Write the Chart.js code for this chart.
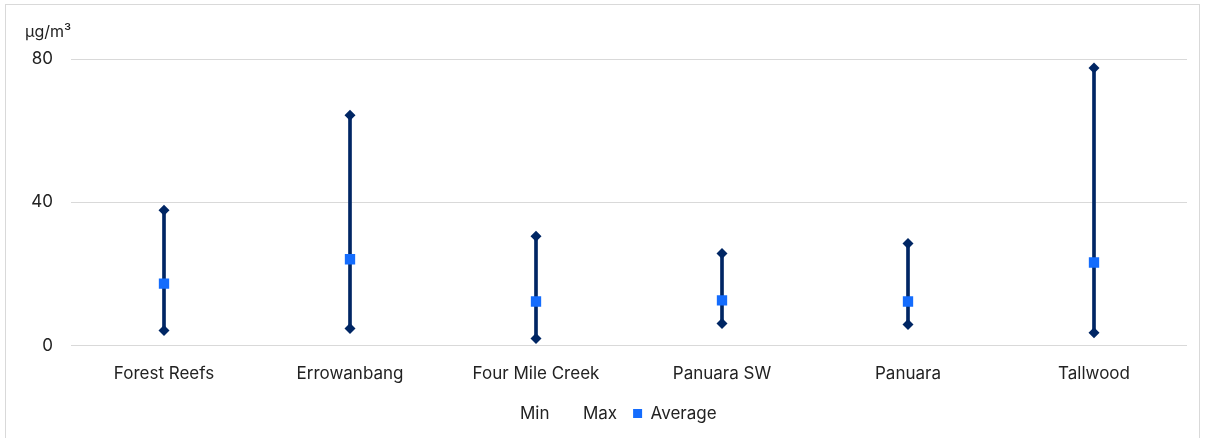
<!DOCTYPE html>
<html>
<head>
<meta charset="utf-8">
<script src="https://cdn.jsdelivr.net/npm/chart.js@4/dist/chart.umd.min.js"></script>
<style>
  html, body { margin: 0; padding: 0; background: #fff; }
  #frame { position: absolute; left: 5px; top: 4px; width: 1195px; height: 440px; border: 1px solid #d9d9d9; box-sizing: border-box; }
  #frame canvas { display: block; }
</style>
</head>
<body>
<div id="frame"><canvas id="c"></canvas></div>
<script>
// PM10 concentrations by monitoring site (µg/m³)
const sites = ['Forest Reefs', 'Errowanbang', 'Four Mile Creek', 'Panuara SW', 'Panuara', 'Tallwood'];
const minValues = [4.2, 4.8, 2.0, 6.2, 5.9, 3.6];
const maxValues = [37.8, 64.3, 30.5, 25.7, 28.5, 77.5];
const avgValues = [17.3, 24.1, 12.3, 12.6, 12.3, 23.2];
const yTicks = [0, 40, 80];
const unitLabel = 'µg/m³';

const navy = '#002664';
const blue = '#146CFD';
const FONT = 'Inter, "Open Sans", "Liberation Sans", sans-serif';
const FS = 17;

const rangeBars = sites.map((_, i) => [minValues[i], maxValues[i]]);

// unit caption above the value axis
const unitTitle = {
  id: 'unitTitle',
  afterDraw(chart) {
    const ctx = chart.ctx;
    ctx.save();
    ctx.font = '16px ' + FONT;
    ctx.fillStyle = '#222';
    ctx.textBaseline = 'middle';
    ctx.textAlign = 'left';
    ctx.fillText(unitLabel, 19, 27);
    ctx.restore();
  }
};

// nudge the legend row a little to the right of centre
const legendShift = {
  id: 'legendShift',
  afterLayout(chart) {
    if (chart.legend) chart.legend.left += 26;
  }
};

new Chart(document.getElementById('c'), {
  data: {
    labels: sites,
    datasets: [
      {
        type: 'bar',
        label: 'Range',
        data: rangeBars,
        backgroundColor: navy,
        borderWidth: 0,
        barThickness: 3,
        grouped: false,
        order: 3
      },
      {
        type: 'line',
        label: 'Min',
        data: minValues,
        showLine: false,
        pointStyle: 'rectRot',
        pointRadius: 5.5,
        pointBackgroundColor: navy,
        pointBorderColor: navy,
        pointBorderWidth: 0,
        order: 2
      },
      {
        type: 'line',
        label: 'Max',
        data: maxValues,
        showLine: false,
        pointStyle: 'rectRot',
        pointRadius: 5.5,
        pointBackgroundColor: navy,
        pointBorderColor: navy,
        pointBorderWidth: 0,
        order: 2
      },
      {
        type: 'line',
        label: 'Average',
        data: avgValues,
        showLine: false,
        pointStyle: 'rect',
        pointRadius: 7.3,
        pointBackgroundColor: blue,
        pointBorderColor: blue,
        pointBorderWidth: 0,
        order: 1
      }
    ]
  },
  options: {
    responsive: true,
    maintainAspectRatio: false,
    animation: false,
    events: [],
    layout: { padding: { top: 54, right: 12, left: 0, bottom: 11 } },
    plugins: {
      tooltip: { enabled: false },
      legend: {
        position: 'bottom',
        labels: {
          font: { family: FONT, size: FS },
          color: '#222',
          boxWidth: 9,
          boxHeight: 9,
          padding: 16,
          filter: item => item.text !== 'Range',
          generateLabels(chart) {
            return chart.data.datasets.map((ds, i) => {
              const visibleMark = ds.label === 'Average';
              return {
                text: ds.label,
                datasetIndex: i,
                fillStyle: visibleMark ? blue : 'rgba(0,0,0,0)',
                strokeStyle: 'rgba(0,0,0,0)',
                lineWidth: 0,
                pointStyle: 'rect',
                fontColor: '#222',
                hidden: false
              };
            });
          },
          usePointStyle: false
        }
      }
    },
    scales: {
      x: {
        grid: { display: false, drawTicks: true, tickLength: 13 },
        border: { display: false },
        ticks: { font: { family: FONT, size: FS }, color: '#222', padding: 5, maxRotation: 0 }
      },
      y: {
        min: 0,
        max: 80,
        afterBuildTicks(scale) { scale.ticks = yTicks.map(v => ({ value: v })); },
        afterFit(scale) { scale.width = 65; },
        grid: { color: '#d9d9d9', lineWidth: 1, drawTicks: false },
        border: { display: false },
        ticks: { font: { family: FONT, size: FS }, color: '#222', padding: 18 }
      }
    }
  },
  plugins: [unitTitle, legendShift]
});
</script>
</body>
</html>
